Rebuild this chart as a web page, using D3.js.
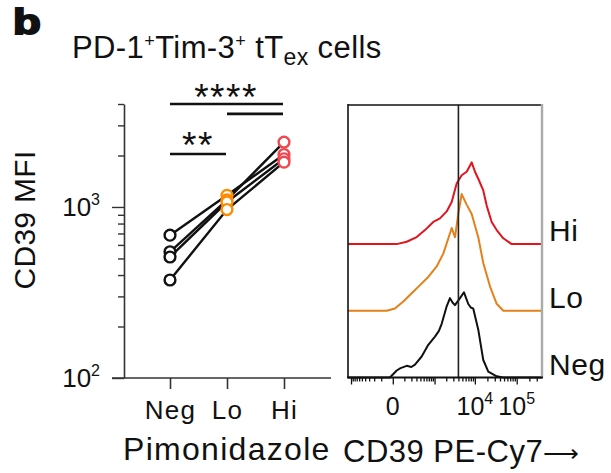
<!DOCTYPE html>
<html><head><meta charset="utf-8">
<script src="https://cdn.jsdelivr.net/npm/d3@7"></script>
<style>
body{margin:0;background:#fff}
svg{display:block}
text{font-family:"Liberation Sans",Arial,Helvetica,sans-serif;fill:#111}
</style>
</head><body>
<svg id="chart" width="611" height="473"></svg>
<script>
// ---------- data ----------
const categories = ["Neg", "Lo", "Hi"];
// CD39 MFI per donor (4 donors)
const mfiNeg = [684, 547, 510, 374];
const mfiLo  = [1170, 1100, 1069, 966];
const mfiHi  = [2027, 2395, 1914, 1828];
const yMinorTicks = [200,300,400,500,600,700,800,900,2000,3000,4000];
const yMajorTicks = [100, 1000];
const yMajorLabels = [["10","2"],["10","3"]];

// histograms: [CD39 PE-Cy7 intensity, % of max]
const histNeg = [[-1200,0],[-19,0],[27,6],[60,8],[129,10],[200,9],[268,11],[437,18],[677,28],[1026,35],[1300,40],[1532,46],[2050,61],[2477,68],[2900,64],[3294,62],[3800,65],[4367,68],[5464,73],[6946,63],[8000,60],[9175,59],[12090,41],[15930,15],[20990,5],[33330,1],[47870,0],[400000,0]];
const histLo  = [[-1200,0],[-45,0],[14,2],[88,8],[205,15],[388,22],[677,29],[1138,38],[1683,49],[2248,62],[2732,71],[3294,63],[3968,83],[4806,100],[6353,91],[8393,83],[12090,63],[15930,41],[23050,21],[33330,6],[47870,0],[400000,0]];
const histHi  = [[-1200,0],[27,0],[129,2],[305,6],[546,12],[925,19],[1385,22],[2050,28],[2732,36],[3626,52],[4806,59],[6353,62],[8393,70],[10080,62],[12090,56],[15930,46],[19220,33],[25310,19],[33330,12],[47870,5],[75880,0],[400000,0]];
const histSeries = [["Neg", histNeg], ["Lo", histLo], ["Hi", histHi]];
const histMajorTicks = [-1000, 0, 1000, 10000, 100000];
const histMinorTicks = [-900,-800,-700,-600,-500,-400,-300,-200,-100,100,200,300,400,500,600,700,800,900,2000,3000,4000,5000,6000,7000,8000,9000,20000,30000,40000,50000,60000,70000,80000,90000,200000,300000];
const histTickLabels = [[0,"0",""],[10000,"10","4"],[100000,"10","5"]];
const gateValue = 4000;

// ---------- styles ----------
const pointColor = {Neg:"#111", Lo:"#ff8a00", Hi:"#f2474f"};
const histColor  = {Neg:"#111", Lo:"#e5801a", Hi:"#e3141e"};

const svg = d3.select("#chart");

// ---------- titles ----------
svg.append("text").attr("transform", "translate(13,34) scale(1.3,1)")
  .attr("font-size", 35).attr("font-weight", 900)
  .style("stroke", "#111").style("stroke-width", 2)
  .text("b");

const title = svg.append("text").attr("x", 72).attr("y", 58).attr("font-size", 31).attr("letter-spacing", 0.4);
title.append("tspan").text("PD-1");
title.append("tspan").attr("font-size", 18).attr("dy", -11).text("+");
title.append("tspan").attr("dy", 11).text("Tim-3");
title.append("tspan").attr("font-size", 18).attr("dy", -11).text("+");
title.append("tspan").attr("dy", 11).text(" tT");
title.append("tspan").attr("font-size", 23).attr("dy", 7).text("ex");
title.append("tspan").attr("dy", -7).text(" cells");

// ---------- left: CD39 MFI ----------
const y = d3.scaleLog().domain([100, 4000]).range([378, 104]);
const x = d3.scalePoint().domain(categories).range([170, 284]);

const gL = svg.append("g");
// y axis
const yAxis = gL.append("g").attr("transform", "translate(124,0)")
  .call(d3.axisLeft(y).tickValues(yMinorTicks.concat(yMajorTicks)).tickSize(6).tickSizeOuter(0).tickFormat(""));
yAxis.select(".domain").attr("stroke", "#333").attr("stroke-width", 1.6);
yAxis.selectAll(".tick line").attr("stroke", "#333").attr("stroke-width", 1.4)
  .attr("x2", d => yMajorTicks.includes(d) ? -12 : -6);

yMajorTicks.forEach((v, i) => {
  const t = gL.append("text").attr("x", 100).attr("y", y(v) + 9)
    .attr("text-anchor", "end").attr("font-size", 26);
  t.append("tspan").text(yMajorLabels[i][0]);
  t.append("tspan").attr("font-size", 16).attr("dy", -11).text(yMajorLabels[i][1]);
});

gL.append("text").attr("transform", `translate(35,${220}) rotate(-90)`)
  .attr("text-anchor", "middle").attr("font-size", 30).attr("letter-spacing", 0.3).text("CD39 MFI");

// x axis
gL.append("line").attr("x1", 112).attr("x2", 331).attr("y1", y(100)).attr("y2", y(100))
  .attr("stroke", "#333").attr("stroke-width", 1.6);
const xAxis = gL.append("g").attr("transform", `translate(0,${y(100)})`)
  .call(d3.axisBottom(x).tickSize(11).tickSizeOuter(0));
xAxis.select(".domain").remove();
xAxis.selectAll(".tick line").attr("stroke", "#333").attr("stroke-width", 1.6);
xAxis.selectAll(".tick text").attr("y", 41).attr("dy", 0).attr("font-size", 26)
  .attr("letter-spacing", 1.2)
  .attr("font-family", "Liberation Sans, Arial, sans-serif").attr("fill", "#111");

gL.append("text").attr("x", 123).attr("y", 460).attr("font-size", 32).attr("letter-spacing", 1.3).text("Pimonidazole");

// donor lines
const donors = mfiNeg.map((v, i) => [["Neg", v], ["Lo", mfiLo[i]], ["Hi", mfiHi[i]]]);
const line = d3.line().x(d => x(d[0])).y(d => y(d[1]));
gL.selectAll(".donor").data(donors).enter().append("path")
  .attr("d", line).attr("fill", "none").attr("stroke", "#111").attr("stroke-width", 2.4);

const pts = [];
categories.forEach(c => {
  const arr = c === "Neg" ? mfiNeg : c === "Lo" ? mfiLo : mfiHi;
  arr.forEach(v => pts.push([c, v]));
});
gL.selectAll(".pt").data(pts).enter().append("circle")
  .attr("cx", d => x(d[0])).attr("cy", d => y(d[1])).attr("r", 5.4)
  .attr("fill", "#fff").attr("stroke", d => pointColor[d[0]]).attr("stroke-width", 2.4);

// significance bars
const sig = [
  {from:"Neg", to:"Hi", yv:4000},
  {from:"Lo",  to:"Hi", yv:3500},
  {from:"Neg", to:"Lo", yv:2040}
];
sig.forEach(s => {
  gL.append("line").attr("x1", x(s.from)).attr("x2", x(s.to) - 1)
    .attr("y1", y(s.yv)).attr("y2", y(s.yv)).attr("stroke", "#111").attr("stroke-width", 2.6);
});
gL.append("text").attr("x", 226).attr("y", 110).attr("text-anchor", "middle")
  .attr("font-size", 37).attr("letter-spacing", 1.5).text("****");
gL.append("text").attr("x", 198).attr("y", 158).attr("text-anchor", "middle")
  .attr("font-size", 37).attr("letter-spacing", 1.5).text("**");

// ---------- right: histograms ----------
const xH = d3.scaleSymlog().constant(113).domain([-1200, 400000]).range([348, 542]);
const yH = d3.scaleLinear().domain([0, 100]).range([0, 116.7]);
const histBase = 377.5, rowStep = 66.7;
const gR = svg.append("g");

histSeries.forEach(([name, data], i) => {
  const base = histBase - i * rowStep;
  gR.append("path").datum(data)
    .attr("d", d3.line().x(d => xH(d[0])).y(d => base - yH(d[1])))
    .attr("fill", "none").attr("stroke", histColor[name]).attr("stroke-width", 2)
    .attr("stroke-linejoin", "round");
  gR.append("text").attr("x", 549).attr("y", base - 3).attr("font-size", 30).attr("letter-spacing", 0.6).text(name);
});

// gate line
gR.append("line").attr("x1", xH(gateValue)).attr("x2", xH(gateValue))
  .attr("y1", 105).attr("y2", histBase).attr("stroke", "#222").attr("stroke-width", 1.6);

// frame
gR.append("line").attr("x1", 348).attr("x2", 542).attr("y1", 105).attr("y2", 105).attr("stroke", "#111").attr("stroke-width", 1.6);
gR.append("line").attr("x1", 348).attr("x2", 348).attr("y1", 104).attr("y2", histBase).attr("stroke", "#111").attr("stroke-width", 1.6);
gR.append("line").attr("x1", 542).attr("x2", 542).attr("y1", 104).attr("y2", histBase).attr("stroke", "#aaa").attr("stroke-width", 2.4);
gR.append("line").attr("x1", 347).attr("x2", 543).attr("y1", histBase).attr("y2", histBase).attr("stroke", "#111").attr("stroke-width", 1.8);

const hAxisMaj = gR.append("g").attr("transform", `translate(0,${histBase})`)
  .call(d3.axisBottom(xH).tickValues(histMajorTicks).tickSize(7).tickSizeOuter(0).tickFormat(""));
const hAxisMin = gR.append("g").attr("transform", `translate(0,${histBase})`)
  .call(d3.axisBottom(xH).tickValues(histMinorTicks).tickSize(4).tickSizeOuter(0).tickFormat(""));
[hAxisMaj, hAxisMin].forEach(a => {
  a.select(".domain").remove();
  a.selectAll(".tick line").attr("stroke", "#111").attr("stroke-width", 1.3);
});

histTickLabels.forEach(([v, base, sup]) => {
  const t = gR.append("text").attr("x", xH(v)).attr("y", 415).attr("text-anchor", "middle").attr("font-size", 25);
  t.append("tspan").text(base);
  if (sup) t.append("tspan").attr("font-size", 16).attr("dy", -11).text(sup);
});

const xt = gR.append("text").attr("x", 343).attr("y", 462).attr("font-size", 31).attr("letter-spacing", 0.5);
xt.append("tspan").text("CD39 PE-Cy7");
xt.append("tspan").attr("font-size", 25).attr("letter-spacing", 0).text("\u27F6");
</script>
</body></html>
